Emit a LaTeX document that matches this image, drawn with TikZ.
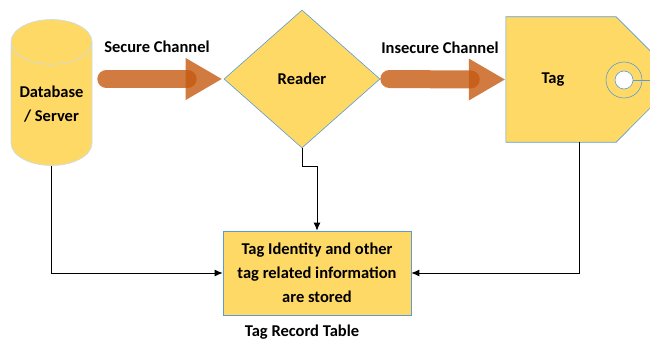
\documentclass[tikz,border=0pt]{standalone}
\usepackage{fontspec}
\setmainfont{Carlito}
\usetikzlibrary{shapes.geometric, arrows.meta, positioning, calc}
\definecolor{nodeYellow}{RGB}{255, 217, 102}
\definecolor{edgeBlue}{RGB}{91, 155, 213}
\definecolor{channelOrange}{RGB}{197, 90, 17}

\begin{document}
\begin{tikzpicture}[x=1pt, y=-1pt,
    every node/.style={font=\bfseries\fontsize{16.5}{24}\selectfont},
    store/.style={cylinder, shape border rotate=90, aspect=0.7, draw=edgeBlue!35, fill=nodeYellow, minimum width=81pt, minimum height=146pt, align=center, line width=0.6pt, inner sep=0pt},
    reader/.style={diamond, draw=edgeBlue, fill=nodeYellow, minimum width=156pt, minimum height=138pt, line width=0.6pt, inner sep=0pt},
    tagbody/.style={rectangle, minimum width=110pt, minimum height=125pt, inner sep=0pt},
    tagshape/.style={draw=edgeBlue, fill=nodeYellow, line width=0.6pt},
    hole/.style={circle, draw=edgeBlue, line width=0.6pt, inner sep=0pt},
    record/.style={rectangle, draw=edgeBlue, fill=nodeYellow, minimum width=188pt, minimum height=84pt, align=center, line width=0.6pt},
    shaft/.style={draw=channelOrange, line width=18pt, line cap=round, opacity=0.8},
    head/.style={fill=channelOrange, opacity=0.8},
    link/.style={-{Latex[length=8pt, width=7pt]}, draw=black, line width=0.9pt},
    chanlabel/.style={font=\bfseries\fontsize{16.5}{20}\selectfont},
]
\clip (0,0) rectangle (650,342);
% NODES
\node[store, anchor=shape center] (db) at (51.5, 92.5) {Database\\/ Server};
\node[reader] (reader) at (302, 79) {Reader};
\node[tagbody] (tag) at (561, 79.5) {};
\path[tagshape] (tag.north west) -- (tag.north east) -- ++(62.5,62.5) -- (tag.south east) -- (tag.south west) -- cycle;
\node (taglabel) at (553, 80) {Tag};
\node[hole, minimum size=36pt] (ring) at (624, 80) {};
\node[hole, fill=white, minimum size=18pt] (eyelet) at (ring.center) {};
\draw[edgeBlue, line width=0.6pt] (eyelet.east) -- ++(40,0);
\node[record] (record) at (317, 273) {Tag Identity and other\\tag related information\\are stored};
\node (recordlabel) at (302, 332) {Tag Record Table};
% CHANNELS
\coordinate (sc-tip) at ([xshift=-2pt]reader.west);
\draw[shaft] ([xshift=14pt]db.east |- sc-tip) -- ([xshift=-34pt]sc-tip);
\fill[head] (sc-tip) -- ++(-36,21) -- ++(0,-42) -- cycle;
\node[chanlabel] (securelabel) at (157, 47) {Secure Channel};
\coordinate (ic-tip) at ([xshift=-1pt]tag.west);
\draw[shaft] ([xshift=9pt]reader.east) -- ([xshift=-34pt]ic-tip);
\fill[head] (ic-tip) -- ++(-36,21) -- ++(0,-42) -- cycle;
\node[chanlabel] (insecurelabel) at (440, 48) {Insecure Channel};
% LINKS TO RECORD
\draw[link] (db.south) |- (record.west);
\draw[link] (reader.south) -- ++(0,18) -| (record.north);
\draw[link] ([xshift=18pt]tag.south) |- (record.east);
\end{tikzpicture}
\end{document}
